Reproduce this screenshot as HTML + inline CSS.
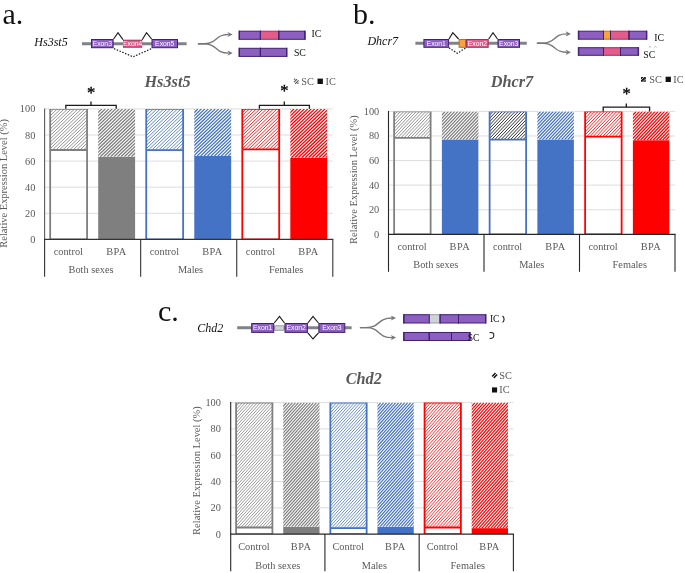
<!DOCTYPE html>
<html><head><meta charset="utf-8"><title>Figure</title>
<style>html,body{margin:0;padding:0;background:#fff;}svg{display:block;}</style></head><body>
<svg width="685" height="573" viewBox="0 0 685 573" font-family='"Liberation Serif", "DejaVu Serif", serif'>
<defs>
<pattern id="hg1" patternUnits="userSpaceOnUse" width="1.65" height="1.65" patternTransform="rotate(-45)"><rect x="0" y="0" width="1.65" height="0.55" fill="#7f7f7f"/></pattern>
<pattern id="hg2" patternUnits="userSpaceOnUse" width="1.65" height="1.65" patternTransform="rotate(-45)"><rect x="0" y="0" width="1.65" height="0.95" fill="#7f7f7f"/></pattern>
<pattern id="hb1" patternUnits="userSpaceOnUse" width="1.65" height="1.65" patternTransform="rotate(-45)"><rect x="0" y="0" width="1.65" height="0.55" fill="#4472c4"/></pattern>
<pattern id="hb2" patternUnits="userSpaceOnUse" width="1.65" height="1.65" patternTransform="rotate(-45)"><rect x="0" y="0" width="1.65" height="0.95" fill="#4472c4"/></pattern>
<pattern id="hr1" patternUnits="userSpaceOnUse" width="1.65" height="1.65" patternTransform="rotate(-45)"><rect x="0" y="0" width="1.65" height="0.55" fill="#ff0000"/></pattern>
<pattern id="hr2" patternUnits="userSpaceOnUse" width="1.65" height="1.65" patternTransform="rotate(-45)"><rect x="0" y="0" width="1.65" height="0.95" fill="#ff0000"/></pattern>
</defs>
<rect width="685" height="573" fill="#fff"/>
<text x="2.5" y="23.5" font-size="30" fill="#111">a.</text>
<text x="34.3" y="46" font-size="12" font-style="italic" fill="#111">Hs3st5</text>
<line x1="82" y1="43.7" x2="186.6" y2="43.7" stroke="#7f8386" stroke-width="3"/>
<rect x="91.50" y="39.50" width="21.60" height="8.20" fill="#8d5fc0" stroke="#3f2170" stroke-width="1.0"/>
<text x="102.30" y="46.00" text-anchor="middle" font-family='"Liberation Sans", "DejaVu Sans", sans-serif' font-size="6.8" fill="#fff">Exon3</text>
<rect x="123.50" y="40.20" width="18.20" height="7.00" fill="#e25c8c" stroke="#a0305c" stroke-width="1.0"/>
<text x="132.60" y="46.10" text-anchor="middle" font-family='"Liberation Sans", "DejaVu Sans", sans-serif' font-size="6.8" fill="#fff">Exon4</text>
<rect x="152.00" y="39.50" width="25.50" height="8.20" fill="#8d5fc0" stroke="#3f2170" stroke-width="1.0"/>
<text x="164.75" y="46.00" text-anchor="middle" font-family='"Liberation Sans", "DejaVu Sans", sans-serif' font-size="6.8" fill="#fff">Exon5</text>
<path d="M113.6 39 L118 32.7 L123 39.7 M142.2 39.7 L146.5 32.7 L151.6 39" fill="none" stroke="#1a1a1a" stroke-width="1.15"/>
<path d="M114 48.6 L133 56.8 L151.6 48.6" fill="none" stroke="#1a1a1a" stroke-width="1.2" stroke-dasharray="1.5 1.5"/>
<path d="M197.9 43.7 H203.9 C218.0 43.7,214.0 34.5,228.6 34.5" fill="none" stroke="#777777" stroke-width="1.4"/>
<path d="M232.7 34.5 L227.5 31.9 L228.79999999999998 34.5 L227.5 37.1 Z" fill="#777777"/>
<path d="M197.9 43.7 H203.9 C218.0 43.7,214.0 53.1,228.6 53.1" fill="none" stroke="#777777" stroke-width="1.4"/>
<path d="M232.7 53.1 L227.5 50.5 L228.79999999999998 53.1 L227.5 55.7 Z" fill="#777777"/>
<rect x="239.00" y="31.20" width="21.40" height="8.10" fill="#8d5fc0" stroke="#3f2170" stroke-width="1.0"/>
<rect x="260.40" y="31.20" width="18.40" height="8.10" fill="#e25c8c" stroke="#a0305c" stroke-width="1.0"/>
<rect x="278.80" y="31.20" width="26.40" height="8.10" fill="#8d5fc0" stroke="#3f2170" stroke-width="1.0"/>
<path d="M239.50 30.70V39.80M304.70 30.70V39.80M260.40 30.70V39.80M278.80 30.70V39.80" fill="none" stroke="#3f2170" stroke-width="1.0"/>
<rect x="239.00" y="48.30" width="21.40" height="8.10" fill="#8d5fc0" stroke="#3f2170" stroke-width="1.0"/>
<rect x="260.40" y="48.30" width="26.60" height="8.10" fill="#8d5fc0" stroke="#3f2170" stroke-width="1.0"/>
<path d="M239.50 47.80V56.90M286.50 47.80V56.90M260.40 47.80V56.90" fill="none" stroke="#3f2170" stroke-width="1.0"/>
<text x="311.4" y="36.8" font-size="9.8" fill="#111">IC</text>
<text x="293.9" y="56.2" font-size="9.8" fill="#111">SC</text>
<line x1="44.6" y1="213.30" x2="332.8" y2="213.30" stroke="#d4d4d4" stroke-width="0.8"/>
<line x1="44.6" y1="187.20" x2="332.8" y2="187.20" stroke="#d4d4d4" stroke-width="0.8"/>
<line x1="44.6" y1="161.10" x2="332.8" y2="161.10" stroke="#d4d4d4" stroke-width="0.8"/>
<line x1="44.6" y1="135.00" x2="332.8" y2="135.00" stroke="#d4d4d4" stroke-width="0.8"/>
<line x1="44.6" y1="108.90" x2="332.8" y2="108.90" stroke="#d4d4d4" stroke-width="0.8"/>
<text transform="translate(35.30 242.90) scale(0.94 1)" text-anchor="end" font-size="11" fill="#595959">0</text>
<text transform="translate(35.30 216.80) scale(0.94 1)" text-anchor="end" font-size="11" fill="#595959">20</text>
<text transform="translate(35.30 190.70) scale(0.94 1)" text-anchor="end" font-size="11" fill="#595959">40</text>
<text transform="translate(35.30 164.60) scale(0.94 1)" text-anchor="end" font-size="11" fill="#595959">60</text>
<text transform="translate(35.30 138.50) scale(0.94 1)" text-anchor="end" font-size="11" fill="#595959">80</text>
<text transform="translate(35.30 112.40) scale(0.94 1)" text-anchor="end" font-size="11" fill="#595959">100</text>
<clipPath id="c1"><rect x="50.17" y="108.90" width="36.90" height="41.11"/></clipPath>
<rect x="50.17" y="108.90" width="36.90" height="41.11" fill="#fff"/>
<path clip-path="url(#c1)" d="M4.04 150.01l42.98 -41.11M7.49 150.01l42.98 -41.11M10.94 150.01l42.98 -41.11M14.39 150.01l42.98 -41.11M17.84 150.01l42.98 -41.11M21.29 150.01l42.98 -41.11M24.74 150.01l42.98 -41.11M28.19 150.01l42.98 -41.11M31.64 150.01l42.98 -41.11M35.09 150.01l42.98 -41.11M38.54 150.01l42.98 -41.11M41.99 150.01l42.98 -41.11M45.44 150.01l42.98 -41.11M48.89 150.01l42.98 -41.11M52.34 150.01l42.98 -41.11M55.79 150.01l42.98 -41.11M59.24 150.01l42.98 -41.11M62.69 150.01l42.98 -41.11M66.14 150.01l42.98 -41.11M69.59 150.01l42.98 -41.11M73.04 150.01l42.98 -41.11M76.49 150.01l42.98 -41.11M79.94 150.01l42.98 -41.11M83.39 150.01l42.98 -41.11M86.84 150.01l42.98 -41.11M90.29 150.01l42.98 -41.11" fill="none" stroke="#7f7f7f" stroke-width="0.85"/>
<path fill="#7f7f7f" d="M49.27 108.90H87.97V239.40H49.27ZM51.07 109.80V149.11H86.17V109.80ZM51.07 150.91V238.50H86.17V150.91Z" fill-rule="evenodd"/>
<clipPath id="c2"><rect x="98.20" y="108.90" width="36.90" height="47.89"/></clipPath>
<rect x="98.20" y="108.90" width="36.90" height="47.89" fill="#fff"/>
<path clip-path="url(#c2)" d="M44.98 156.79l50.07 -47.89M48.43 156.79l50.07 -47.89M51.88 156.79l50.07 -47.89M55.33 156.79l50.07 -47.89M58.78 156.79l50.07 -47.89M62.23 156.79l50.07 -47.89M65.68 156.79l50.07 -47.89M69.13 156.79l50.07 -47.89M72.58 156.79l50.07 -47.89M76.03 156.79l50.07 -47.89M79.48 156.79l50.07 -47.89M82.93 156.79l50.07 -47.89M86.38 156.79l50.07 -47.89M89.83 156.79l50.07 -47.89M93.28 156.79l50.07 -47.89M96.73 156.79l50.07 -47.89M100.18 156.79l50.07 -47.89M103.63 156.79l50.07 -47.89M107.08 156.79l50.07 -47.89M110.53 156.79l50.07 -47.89M113.98 156.79l50.07 -47.89M117.43 156.79l50.07 -47.89M120.88 156.79l50.07 -47.89M124.33 156.79l50.07 -47.89M127.78 156.79l50.07 -47.89M131.23 156.79l50.07 -47.89M134.68 156.79l50.07 -47.89M138.13 156.79l50.07 -47.89" fill="none" stroke="#7f7f7f" stroke-width="1.3"/>
<rect x="98.20" y="156.79" width="36.9" height="82.61" fill="#7f7f7f"/>
<clipPath id="c3"><rect x="146.23" y="108.90" width="36.90" height="41.24"/></clipPath>
<rect x="146.23" y="108.90" width="36.90" height="41.24" fill="#fff"/>
<path clip-path="url(#c3)" d="M99.97 150.14l43.11 -41.24M103.42 150.14l43.11 -41.24M106.87 150.14l43.11 -41.24M110.32 150.14l43.11 -41.24M113.77 150.14l43.11 -41.24M117.22 150.14l43.11 -41.24M120.67 150.14l43.11 -41.24M124.12 150.14l43.11 -41.24M127.57 150.14l43.11 -41.24M131.02 150.14l43.11 -41.24M134.47 150.14l43.11 -41.24M137.92 150.14l43.11 -41.24M141.37 150.14l43.11 -41.24M144.82 150.14l43.11 -41.24M148.27 150.14l43.11 -41.24M151.72 150.14l43.11 -41.24M155.17 150.14l43.11 -41.24M158.62 150.14l43.11 -41.24M162.07 150.14l43.11 -41.24M165.52 150.14l43.11 -41.24M168.97 150.14l43.11 -41.24M172.42 150.14l43.11 -41.24M175.87 150.14l43.11 -41.24M179.32 150.14l43.11 -41.24M182.77 150.14l43.11 -41.24M186.22 150.14l43.11 -41.24" fill="none" stroke="#4472c4" stroke-width="0.85"/>
<path fill="#4472c4" d="M145.33 108.90H184.03V239.40H145.33ZM147.13 109.80V149.24H182.23V109.80ZM147.13 151.04V238.50H182.23V151.04Z" fill-rule="evenodd"/>
<clipPath id="c4"><rect x="194.27" y="108.90" width="36.90" height="46.98"/></clipPath>
<rect x="194.27" y="108.90" width="36.90" height="46.98" fill="#fff"/>
<path clip-path="url(#c4)" d="M142.00 155.88l49.12 -46.98M145.45 155.88l49.12 -46.98M148.90 155.88l49.12 -46.98M152.35 155.88l49.12 -46.98M155.80 155.88l49.12 -46.98M159.25 155.88l49.12 -46.98M162.70 155.88l49.12 -46.98M166.15 155.88l49.12 -46.98M169.60 155.88l49.12 -46.98M173.05 155.88l49.12 -46.98M176.50 155.88l49.12 -46.98M179.95 155.88l49.12 -46.98M183.40 155.88l49.12 -46.98M186.85 155.88l49.12 -46.98M190.30 155.88l49.12 -46.98M193.75 155.88l49.12 -46.98M197.20 155.88l49.12 -46.98M200.65 155.88l49.12 -46.98M204.10 155.88l49.12 -46.98M207.55 155.88l49.12 -46.98M211.00 155.88l49.12 -46.98M214.45 155.88l49.12 -46.98M217.90 155.88l49.12 -46.98M221.35 155.88l49.12 -46.98M224.80 155.88l49.12 -46.98M228.25 155.88l49.12 -46.98M231.70 155.88l49.12 -46.98" fill="none" stroke="#4472c4" stroke-width="1.3"/>
<rect x="194.27" y="155.88" width="36.9" height="83.52" fill="#4472c4"/>
<clipPath id="c5"><rect x="242.30" y="108.90" width="36.90" height="40.46"/></clipPath>
<rect x="242.30" y="108.90" width="36.90" height="40.46" fill="#fff"/>
<path clip-path="url(#c5)" d="M196.86 149.36l42.29 -40.46M200.31 149.36l42.29 -40.46M203.76 149.36l42.29 -40.46M207.21 149.36l42.29 -40.46M210.66 149.36l42.29 -40.46M214.11 149.36l42.29 -40.46M217.56 149.36l42.29 -40.46M221.01 149.36l42.29 -40.46M224.46 149.36l42.29 -40.46M227.91 149.36l42.29 -40.46M231.36 149.36l42.29 -40.46M234.81 149.36l42.29 -40.46M238.26 149.36l42.29 -40.46M241.71 149.36l42.29 -40.46M245.16 149.36l42.29 -40.46M248.61 149.36l42.29 -40.46M252.06 149.36l42.29 -40.46M255.51 149.36l42.29 -40.46M258.96 149.36l42.29 -40.46M262.41 149.36l42.29 -40.46M265.86 149.36l42.29 -40.46M269.31 149.36l42.29 -40.46M272.76 149.36l42.29 -40.46M276.21 149.36l42.29 -40.46M279.66 149.36l42.29 -40.46" fill="none" stroke="#ff0000" stroke-width="0.85"/>
<path fill="#ff0000" d="M241.40 108.90H280.10V239.40H241.40ZM243.20 109.80V148.46H278.30V109.80ZM243.20 150.26V238.50H278.30V150.26Z" fill-rule="evenodd"/>
<clipPath id="c6"><rect x="290.33" y="108.90" width="36.90" height="48.94"/></clipPath>
<rect x="290.33" y="108.90" width="36.90" height="48.94" fill="#fff"/>
<path clip-path="url(#c6)" d="M236.02 157.84l51.16 -48.94M239.47 157.84l51.16 -48.94M242.92 157.84l51.16 -48.94M246.37 157.84l51.16 -48.94M249.82 157.84l51.16 -48.94M253.27 157.84l51.16 -48.94M256.72 157.84l51.16 -48.94M260.17 157.84l51.16 -48.94M263.62 157.84l51.16 -48.94M267.07 157.84l51.16 -48.94M270.52 157.84l51.16 -48.94M273.97 157.84l51.16 -48.94M277.42 157.84l51.16 -48.94M280.87 157.84l51.16 -48.94M284.32 157.84l51.16 -48.94M287.77 157.84l51.16 -48.94M291.22 157.84l51.16 -48.94M294.67 157.84l51.16 -48.94M298.12 157.84l51.16 -48.94M301.57 157.84l51.16 -48.94M305.02 157.84l51.16 -48.94M308.47 157.84l51.16 -48.94M311.92 157.84l51.16 -48.94M315.37 157.84l51.16 -48.94M318.82 157.84l51.16 -48.94M322.27 157.84l51.16 -48.94M325.72 157.84l51.16 -48.94M329.17 157.84l51.16 -48.94" fill="none" stroke="#ff0000" stroke-width="1.3"/>
<rect x="290.33" y="157.84" width="36.9" height="81.56" fill="#ff0000"/>
<line x1="44.6" y1="108.40" x2="44.6" y2="239.4" stroke="#5a5a5a" stroke-width="1.1"/>
<line x1="44.6" y1="239.4" x2="44.6" y2="276.8" stroke="#333" stroke-width="1.1"/>
<line x1="44.050000000000004" y1="239.4" x2="333.35" y2="239.4" stroke="#333" stroke-width="1.2"/>
<line x1="140.67" y1="239.4" x2="140.67" y2="276.8" stroke="#333" stroke-width="1.1"/>
<line x1="236.73" y1="239.4" x2="236.73" y2="276.8" stroke="#333" stroke-width="1.1"/>
<line x1="332.80" y1="239.4" x2="332.80" y2="276.8" stroke="#333" stroke-width="1.1"/>
<text transform="translate(68.32 254.7) scale(0.94 1)" text-anchor="middle" font-size="11" fill="#595959">control</text>
<text transform="translate(116.35 254.7) scale(0.94 1)" text-anchor="middle" font-size="11" letter-spacing="0.45" fill="#595959">BPA</text>
<text transform="translate(164.38 254.7) scale(0.94 1)" text-anchor="middle" font-size="11" fill="#595959">control</text>
<text transform="translate(212.42 254.7) scale(0.94 1)" text-anchor="middle" font-size="11" letter-spacing="0.45" fill="#595959">BPA</text>
<text transform="translate(260.45 254.7) scale(0.94 1)" text-anchor="middle" font-size="11" fill="#595959">control</text>
<text transform="translate(308.48 254.7) scale(0.94 1)" text-anchor="middle" font-size="11" letter-spacing="0.45" fill="#595959">BPA</text>
<text transform="translate(91.03 272.5) scale(0.94 1)" text-anchor="middle" font-size="11" fill="#595959">Both sexes</text>
<text transform="translate(190.50 272.5) scale(0.94 1)" text-anchor="middle" font-size="11" fill="#595959">Males</text>
<text transform="translate(286.17 272.5) scale(0.94 1)" text-anchor="middle" font-size="11" fill="#595959">Females</text>
<text transform="translate(7.0,183.40) rotate(-90) scale(0.952 1)" text-anchor="middle" font-size="11" fill="#595959">Relative Expression Level (%)</text>
<text x="167.5" y="87.3" text-anchor="middle" font-size="16.3" font-weight="bold" font-style="italic" fill="#595959">Hs3st5</text>
<path d="M65.8 108.8 V105.3 H116.2 V108.8 M91 105.3 V101.5" fill="none" stroke="#1a1a1a" stroke-width="1.3"/>
<text x="91" y="98.4" text-anchor="middle" font-size="16.5" fill="#000" stroke="#000" stroke-width="0.35">*</text>
<path d="M259.4 108.8 V105.3 H309.4 V108.8 M284.3 105.3 V101.5" fill="none" stroke="#1a1a1a" stroke-width="1.3"/>
<text x="284.3" y="95.9" text-anchor="middle" font-size="16.5" fill="#000" stroke="#000" stroke-width="0.35">*</text>
<path d="M294 82.2 l3 -3 M295.2 83.8 l3.4 -3.4 M294 79.6 l1.2 -0.8 M297.4 83.6 l1.2 -0.8" fill="none" stroke="#555" stroke-width="1.1"/>
<text transform="translate(301.2 84.9) scale(0.93 1)" font-size="11.1" fill="#595959">SC</text>
<rect x="317.5" y="78.6" width="5.4" height="5.4" fill="#111"/>
<text transform="translate(325.6 84.9) scale(0.93 1)" font-size="11.1" fill="#595959">IC</text>
<text x="353" y="23.5" font-size="30" fill="#111">b.</text>
<text x="367.4" y="44.6" font-size="12" font-style="italic" fill="#111">Dhcr7</text>
<line x1="415.4" y1="43.2" x2="526.8" y2="43.2" stroke="#7f8386" stroke-width="3"/>
<rect x="423.90" y="39.50" width="24.70" height="7.80" fill="#8d5fc0" stroke="#3f2170" stroke-width="1.0"/>
<text x="436.25" y="45.80" text-anchor="middle" font-family='"Liberation Sans", "DejaVu Sans", sans-serif' font-size="6.8" fill="#fff">Exon1</text>
<rect x="459.10" y="39.50" width="6.40" height="7.80" fill="#f9a23f" stroke="#b5702a" stroke-width="1.0"/>
<rect x="466.50" y="39.50" width="21.70" height="7.80" fill="#e25c8c" stroke="#a0305c" stroke-width="1.0"/>
<text x="477.35" y="45.80" text-anchor="middle" font-family='"Liberation Sans", "DejaVu Sans", sans-serif' font-size="6.8" fill="#fff">Exon2</text>
<rect x="498.00" y="39.50" width="21.50" height="7.80" fill="#8d5fc0" stroke="#3f2170" stroke-width="1.0"/>
<text x="508.75" y="45.80" text-anchor="middle" font-family='"Liberation Sans", "DejaVu Sans", sans-serif' font-size="6.8" fill="#fff">Exon3</text>
<path d="M449 39 L452.8 32.7 L458.6 39 M488.7 39 L493 32.7 L497.5 39" fill="none" stroke="#1a1a1a" stroke-width="1.15"/>
<path d="M449 47.8 L457.3 53.3 L466 47.8" fill="none" stroke="#1a1a1a" stroke-width="1.2" stroke-dasharray="1.5 1.5"/>
<path d="M536.9 43.2 H542.9 C556.5999999999999 43.2,552.5999999999999 33.9,566.8 33.9" fill="none" stroke="#777777" stroke-width="1.4"/>
<path d="M570.9 33.9 L565.6999999999999 31.299999999999997 L567.0 33.9 L565.6999999999999 36.5 Z" fill="#777777"/>
<path d="M536.9 43.2 H542.9 C556.5999999999999 43.2,552.5999999999999 52.3,566.8 52.3" fill="none" stroke="#777777" stroke-width="1.4"/>
<path d="M570.9 52.3 L565.6999999999999 49.699999999999996 L567.0 52.3 L565.6999999999999 54.9 Z" fill="#777777"/>
<rect x="578.30" y="31.20" width="25.20" height="8.00" fill="#8d5fc0" stroke="#3f2170" stroke-width="1.0"/>
<rect x="603.50" y="31.20" width="7.00" height="8.00" fill="#f9a23f" stroke="#b5702a" stroke-width="1.0"/>
<rect x="610.50" y="31.20" width="18.50" height="8.00" fill="#e25c8c" stroke="#a0305c" stroke-width="1.0"/>
<rect x="629.00" y="31.20" width="17.90" height="8.00" fill="#8d5fc0" stroke="#3f2170" stroke-width="1.0"/>
<path d="M578.80 30.70V39.70M646.40 30.70V39.70M603.50 30.70V39.70M610.50 30.70V39.70M629.00 30.70V39.70" fill="none" stroke="#3f2170" stroke-width="1.0"/>
<rect x="578.30" y="47.70" width="25.20" height="7.60" fill="#8d5fc0" stroke="#3f2170" stroke-width="1.0"/>
<rect x="603.50" y="47.70" width="17.00" height="7.60" fill="#e25c8c" stroke="#a0305c" stroke-width="1.0"/>
<rect x="620.50" y="47.70" width="18.10" height="7.60" fill="#8d5fc0" stroke="#3f2170" stroke-width="1.0"/>
<path d="M578.80 47.20V55.80M638.10 47.20V55.80M603.50 47.20V55.80M620.50 47.20V55.80" fill="none" stroke="#3f2170" stroke-width="1.0"/>
<text x="654.2" y="40.8" font-size="9.8" fill="#111">IC</text>
<text x="643.2" y="58" font-size="9.8" fill="#111">SC</text>
<path d="M648.8 47.3 l1.2 -0.8 l1.2 0.8 M654.2 47.3 l1.2 -0.8 l1.2 0.8" fill="none" stroke="#888" stroke-width="0.6"/>
<line x1="388.5" y1="209.72" x2="675" y2="209.72" stroke="#d4d4d4" stroke-width="0.8"/>
<line x1="388.5" y1="185.14" x2="675" y2="185.14" stroke="#d4d4d4" stroke-width="0.8"/>
<line x1="388.5" y1="160.56" x2="675" y2="160.56" stroke="#d4d4d4" stroke-width="0.8"/>
<line x1="388.5" y1="135.98" x2="675" y2="135.98" stroke="#d4d4d4" stroke-width="0.8"/>
<line x1="388.5" y1="111.40" x2="675" y2="111.40" stroke="#d4d4d4" stroke-width="0.8"/>
<text transform="translate(379.20 237.80) scale(0.94 1)" text-anchor="end" font-size="11" fill="#595959">0</text>
<text transform="translate(379.20 213.22) scale(0.94 1)" text-anchor="end" font-size="11" fill="#595959">20</text>
<text transform="translate(379.20 188.64) scale(0.94 1)" text-anchor="end" font-size="11" fill="#595959">40</text>
<text transform="translate(379.20 164.06) scale(0.94 1)" text-anchor="end" font-size="11" fill="#595959">60</text>
<text transform="translate(379.20 139.48) scale(0.94 1)" text-anchor="end" font-size="11" fill="#595959">80</text>
<text transform="translate(379.20 114.90) scale(0.94 1)" text-anchor="end" font-size="11" fill="#595959">100</text>
<clipPath id="c7"><rect x="394.12" y="111.40" width="36.50" height="26.42"/></clipPath>
<rect x="394.12" y="111.40" width="36.50" height="26.42" fill="#fff"/>
<path clip-path="url(#c7)" d="M366.28 137.82l25.00 -26.42M369.43 137.82l25.00 -26.42M372.58 137.82l25.00 -26.42M375.73 137.82l25.00 -26.42M378.88 137.82l25.00 -26.42M382.03 137.82l25.00 -26.42M385.18 137.82l25.00 -26.42M388.33 137.82l25.00 -26.42M391.48 137.82l25.00 -26.42M394.63 137.82l25.00 -26.42M397.78 137.82l25.00 -26.42M400.93 137.82l25.00 -26.42M404.08 137.82l25.00 -26.42M407.23 137.82l25.00 -26.42M410.38 137.82l25.00 -26.42M413.53 137.82l25.00 -26.42M416.68 137.82l25.00 -26.42M419.83 137.82l25.00 -26.42M422.98 137.82l25.00 -26.42M426.13 137.82l25.00 -26.42M429.28 137.82l25.00 -26.42M432.43 137.82l25.00 -26.42" fill="none" stroke="#7f7f7f" stroke-width="0.85"/>
<path fill="#7f7f7f" d="M393.23 111.40H431.52V234.30H393.23ZM395.02 112.30V136.92H429.73V112.30ZM395.02 138.72V233.40H429.73V138.72Z" fill-rule="evenodd"/>
<clipPath id="c8"><rect x="441.88" y="111.40" width="36.50" height="28.27"/></clipPath>
<rect x="441.88" y="111.40" width="36.50" height="28.27" fill="#fff"/>
<path clip-path="url(#c8)" d="M412.29 139.67l26.74 -28.27M415.44 139.67l26.74 -28.27M418.59 139.67l26.74 -28.27M421.74 139.67l26.74 -28.27M424.89 139.67l26.74 -28.27M428.04 139.67l26.74 -28.27M431.19 139.67l26.74 -28.27M434.34 139.67l26.74 -28.27M437.49 139.67l26.74 -28.27M440.64 139.67l26.74 -28.27M443.79 139.67l26.74 -28.27M446.94 139.67l26.74 -28.27M450.09 139.67l26.74 -28.27M453.24 139.67l26.74 -28.27M456.39 139.67l26.74 -28.27M459.54 139.67l26.74 -28.27M462.69 139.67l26.74 -28.27M465.84 139.67l26.74 -28.27M468.99 139.67l26.74 -28.27M472.14 139.67l26.74 -28.27M475.29 139.67l26.74 -28.27M478.44 139.67l26.74 -28.27" fill="none" stroke="#7f7f7f" stroke-width="1.25"/>
<rect x="441.88" y="139.67" width="36.5" height="94.63" fill="#4472c4"/>
<clipPath id="c9"><rect x="489.62" y="111.40" width="36.50" height="28.27"/></clipPath>
<rect x="489.62" y="111.40" width="36.50" height="28.27" fill="#fff"/>
<path clip-path="url(#c9)" d="M460.04 139.67l26.74 -28.27M463.19 139.67l26.74 -28.27M466.34 139.67l26.74 -28.27M469.49 139.67l26.74 -28.27M472.64 139.67l26.74 -28.27M475.79 139.67l26.74 -28.27M478.94 139.67l26.74 -28.27M482.09 139.67l26.74 -28.27M485.24 139.67l26.74 -28.27M488.39 139.67l26.74 -28.27M491.54 139.67l26.74 -28.27M494.69 139.67l26.74 -28.27M497.84 139.67l26.74 -28.27M500.99 139.67l26.74 -28.27M504.14 139.67l26.74 -28.27M507.29 139.67l26.74 -28.27M510.44 139.67l26.74 -28.27M513.59 139.67l26.74 -28.27M516.74 139.67l26.74 -28.27M519.89 139.67l26.74 -28.27M523.04 139.67l26.74 -28.27M526.19 139.67l26.74 -28.27" fill="none" stroke="#333" stroke-width="1.0"/>
<path fill="#4472c4" d="M488.73 111.40H527.02V234.30H488.73ZM490.52 112.30V138.77H525.23V112.30ZM490.52 140.57V233.40H525.23V140.57Z" fill-rule="evenodd"/>
<clipPath id="c10"><rect x="537.38" y="111.40" width="36.50" height="28.27"/></clipPath>
<rect x="537.38" y="111.40" width="36.50" height="28.27" fill="#fff"/>
<path clip-path="url(#c10)" d="M507.79 139.67l26.74 -28.27M510.94 139.67l26.74 -28.27M514.09 139.67l26.74 -28.27M517.24 139.67l26.74 -28.27M520.39 139.67l26.74 -28.27M523.54 139.67l26.74 -28.27M526.69 139.67l26.74 -28.27M529.84 139.67l26.74 -28.27M532.99 139.67l26.74 -28.27M536.14 139.67l26.74 -28.27M539.29 139.67l26.74 -28.27M542.44 139.67l26.74 -28.27M545.59 139.67l26.74 -28.27M548.74 139.67l26.74 -28.27M551.89 139.67l26.74 -28.27M555.04 139.67l26.74 -28.27M558.19 139.67l26.74 -28.27M561.34 139.67l26.74 -28.27M564.49 139.67l26.74 -28.27M567.64 139.67l26.74 -28.27M570.79 139.67l26.74 -28.27M573.94 139.67l26.74 -28.27" fill="none" stroke="#4472c4" stroke-width="1.25"/>
<rect x="537.38" y="139.67" width="36.5" height="94.63" fill="#4472c4"/>
<clipPath id="c11"><rect x="585.12" y="111.40" width="36.50" height="25.19"/></clipPath>
<rect x="585.12" y="111.40" width="36.50" height="25.19" fill="#fff"/>
<path clip-path="url(#c11)" d="M558.44 136.59l23.83 -25.19M561.59 136.59l23.83 -25.19M564.74 136.59l23.83 -25.19M567.89 136.59l23.83 -25.19M571.04 136.59l23.83 -25.19M574.19 136.59l23.83 -25.19M577.34 136.59l23.83 -25.19M580.49 136.59l23.83 -25.19M583.64 136.59l23.83 -25.19M586.79 136.59l23.83 -25.19M589.94 136.59l23.83 -25.19M593.09 136.59l23.83 -25.19M596.24 136.59l23.83 -25.19M599.39 136.59l23.83 -25.19M602.54 136.59l23.83 -25.19M605.69 136.59l23.83 -25.19M608.84 136.59l23.83 -25.19M611.99 136.59l23.83 -25.19M615.14 136.59l23.83 -25.19M618.29 136.59l23.83 -25.19M621.44 136.59l23.83 -25.19M624.59 136.59l23.83 -25.19" fill="none" stroke="#ff0000" stroke-width="0.85"/>
<path fill="#ff0000" d="M584.23 111.40H622.52V234.30H584.23ZM586.02 112.30V135.69H620.73V112.30ZM586.02 137.49V233.40H620.73V137.49Z" fill-rule="evenodd"/>
<clipPath id="c12"><rect x="632.88" y="111.40" width="36.50" height="28.88"/></clipPath>
<rect x="632.88" y="111.40" width="36.50" height="28.88" fill="#fff"/>
<path clip-path="url(#c12)" d="M602.70 140.28l27.32 -28.88M605.85 140.28l27.32 -28.88M609.00 140.28l27.32 -28.88M612.15 140.28l27.32 -28.88M615.30 140.28l27.32 -28.88M618.45 140.28l27.32 -28.88M621.60 140.28l27.32 -28.88M624.75 140.28l27.32 -28.88M627.90 140.28l27.32 -28.88M631.05 140.28l27.32 -28.88M634.20 140.28l27.32 -28.88M637.35 140.28l27.32 -28.88M640.50 140.28l27.32 -28.88M643.65 140.28l27.32 -28.88M646.80 140.28l27.32 -28.88M649.95 140.28l27.32 -28.88M653.10 140.28l27.32 -28.88M656.25 140.28l27.32 -28.88M659.40 140.28l27.32 -28.88M662.55 140.28l27.32 -28.88M665.70 140.28l27.32 -28.88M668.85 140.28l27.32 -28.88M672.00 140.28l27.32 -28.88" fill="none" stroke="#ff0000" stroke-width="1.25"/>
<rect x="632.88" y="140.28" width="36.5" height="94.02" fill="#ff0000"/>
<line x1="388.5" y1="110.90" x2="388.5" y2="234.3" stroke="#262626" stroke-width="1.1"/>
<line x1="388.5" y1="234.3" x2="388.5" y2="271.8" stroke="#262626" stroke-width="1.1"/>
<line x1="387.95" y1="234.3" x2="675.55" y2="234.3" stroke="#262626" stroke-width="1.2"/>
<line x1="484.00" y1="234.3" x2="484.00" y2="271.8" stroke="#262626" stroke-width="1.1"/>
<line x1="579.50" y1="234.3" x2="579.50" y2="271.8" stroke="#262626" stroke-width="1.1"/>
<line x1="675.00" y1="234.3" x2="675.00" y2="271.8" stroke="#262626" stroke-width="1.1"/>
<text transform="translate(412.07 250) scale(0.94 1)" text-anchor="middle" font-size="11" fill="#595959">control</text>
<text transform="translate(459.82 250) scale(0.94 1)" text-anchor="middle" font-size="11" letter-spacing="0.45" fill="#595959">BPA</text>
<text transform="translate(507.57 250) scale(0.94 1)" text-anchor="middle" font-size="11" fill="#595959">control</text>
<text transform="translate(555.33 250) scale(0.94 1)" text-anchor="middle" font-size="11" letter-spacing="0.45" fill="#595959">BPA</text>
<text transform="translate(603.08 250) scale(0.94 1)" text-anchor="middle" font-size="11" fill="#595959">control</text>
<text transform="translate(650.83 250) scale(0.94 1)" text-anchor="middle" font-size="11" letter-spacing="0.45" fill="#595959">BPA</text>
<text transform="translate(435.75 268) scale(0.94 1)" text-anchor="middle" font-size="11" fill="#595959">Both sexes</text>
<text transform="translate(531.75 268) scale(0.94 1)" text-anchor="middle" font-size="11" fill="#595959">Males</text>
<text transform="translate(629.75 268) scale(0.94 1)" text-anchor="middle" font-size="11" fill="#595959">Females</text>
<text transform="translate(357.2,179.60) rotate(-90) scale(0.952 1)" text-anchor="middle" font-size="11" fill="#595959">Relative Expression Level (%)</text>
<text x="511.9" y="87.3" text-anchor="middle" font-size="16.3" font-weight="bold" font-style="italic" fill="#595959">Dhcr7</text>
<path d="M603.2 111.4 V107.1 H649.6 V111.4 M626.3 107.1 V103.4" fill="none" stroke="#1a1a1a" stroke-width="1.3"/>
<text x="626.5" y="98.5" text-anchor="middle" font-size="16.5" fill="#000" stroke="#000" stroke-width="0.35">*</text>
<rect x="641" y="77" width="4.8" height="4.8" fill="#222"/>
<path d="M641 80 l3 -3 M642.8 81.8 l3 -3" stroke="#fff" stroke-width="0.7"/>
<text transform="translate(649.2 82.8) scale(0.93 1)" font-size="11.1" fill="#595959">SC</text>
<rect x="665.6" y="76.7" width="5.3" height="5.3" fill="#111"/>
<text transform="translate(673.2 82.8) scale(0.93 1)" font-size="11.1" fill="#595959">IC</text>
<text x="158" y="321" font-size="30" fill="#111">c.</text>
<text x="197.2" y="331.6" font-size="12" font-style="italic" fill="#111">Chd2</text>
<line x1="237.2" y1="327.8" x2="351.6" y2="327.8" stroke="#7f8386" stroke-width="3"/>
<rect x="274.70" y="325.80" width="9.30" height="4.50" fill="#cfd2d6" stroke="#9a9da2" stroke-width="1.0"/>
<rect x="251.70" y="323.50" width="22.00" height="8.90" fill="#8d5fc0" stroke="#3f2170" stroke-width="1.0"/>
<text x="262.70" y="330.35" text-anchor="middle" font-family='"Liberation Sans", "DejaVu Sans", sans-serif' font-size="6.8" fill="#fff">Exon1</text>
<rect x="285.00" y="323.50" width="22.40" height="8.90" fill="#8d5fc0" stroke="#3f2170" stroke-width="1.0"/>
<text x="296.20" y="330.35" text-anchor="middle" font-family='"Liberation Sans", "DejaVu Sans", sans-serif' font-size="6.8" fill="#fff">Exon2</text>
<rect x="318.90" y="323.50" width="25.90" height="8.90" fill="#8d5fc0" stroke="#3f2170" stroke-width="1.0"/>
<text x="331.85" y="330.35" text-anchor="middle" font-family='"Liberation Sans", "DejaVu Sans", sans-serif' font-size="6.8" fill="#fff">Exon3</text>
<path d="M274.2 323 L279.5 316.5 L284.5 323 M307.8 323 L313 316.5 L318.5 323 M307.8 332.9 L313 339 L318.5 332.9" fill="none" stroke="#1a1a1a" stroke-width="1.15"/>
<path d="M359.9 327.6 H365.9 C380.7 327.6,376.7 318,392.0 318" fill="none" stroke="#777777" stroke-width="1.4"/>
<path d="M396.1 318 L390.9 315.4 L392.2 318 L390.9 320.6 Z" fill="#777777"/>
<path d="M359.9 327.6 H365.9 C380.7 327.6,376.7 337.6,392.0 337.6" fill="none" stroke="#777777" stroke-width="1.4"/>
<path d="M396.1 337.6 L390.9 335.0 L392.2 337.6 L390.9 340.20000000000005 Z" fill="#777777"/>
<rect x="403.60" y="314.70" width="25.70" height="8.30" fill="#8d5fc0" stroke="#3f2170" stroke-width="1.0"/>
<rect x="429.30" y="314.70" width="10.80" height="8.30" fill="#cfd2d6" stroke="#9a9da2" stroke-width="1.0"/>
<rect x="440.10" y="314.70" width="18.40" height="8.30" fill="#8d5fc0" stroke="#3f2170" stroke-width="1.0"/>
<rect x="458.50" y="314.70" width="27.50" height="8.30" fill="#8d5fc0" stroke="#3f2170" stroke-width="1.0"/>
<path d="M404.10 314.20V323.50M485.50 314.20V323.50M429.30 314.20V323.50M440.10 314.20V323.50M458.50 314.20V323.50" fill="none" stroke="#3f2170" stroke-width="1.0"/>
<rect x="403.60" y="332.50" width="25.70" height="8.00" fill="#8d5fc0" stroke="#3f2170" stroke-width="1.0"/>
<rect x="429.30" y="332.50" width="22.20" height="8.00" fill="#8d5fc0" stroke="#3f2170" stroke-width="1.0"/>
<rect x="451.50" y="332.50" width="18.70" height="8.00" fill="#8d5fc0" stroke="#3f2170" stroke-width="1.0"/>
<path d="M404.10 332.00V341.00M469.70 332.00V341.00M429.30 332.00V341.00M451.50 332.00V341.00" fill="none" stroke="#3f2170" stroke-width="1.0"/>
<text x="489.9" y="322.1" font-size="9.6" fill="#111">IC</text>
<text x="467.8" y="341.2" font-size="9.5" fill="#111">SC</text>
<path d="M502.6 315.8 q3 3.3 0 6.6 M489.6 332.6 q4.6 -0.6 4.2 3 q-0.2 3.2 -4.2 2.8" fill="none" stroke="#222" stroke-width="1.1"/>
<line x1="230.7" y1="507.80" x2="513.4" y2="507.80" stroke="#d4d4d4" stroke-width="0.8"/>
<line x1="230.7" y1="481.50" x2="513.4" y2="481.50" stroke="#d4d4d4" stroke-width="0.8"/>
<line x1="230.7" y1="455.20" x2="513.4" y2="455.20" stroke="#d4d4d4" stroke-width="0.8"/>
<line x1="230.7" y1="428.90" x2="513.4" y2="428.90" stroke="#d4d4d4" stroke-width="0.8"/>
<line x1="230.7" y1="402.60" x2="513.4" y2="402.60" stroke="#d4d4d4" stroke-width="0.8"/>
<text transform="translate(220.90 537.60) scale(0.94 1)" text-anchor="end" font-size="11" fill="#595959">0</text>
<text transform="translate(220.90 511.30) scale(0.94 1)" text-anchor="end" font-size="11" fill="#595959">20</text>
<text transform="translate(220.90 485.00) scale(0.94 1)" text-anchor="end" font-size="11" fill="#595959">40</text>
<text transform="translate(220.90 458.70) scale(0.94 1)" text-anchor="end" font-size="11" fill="#595959">60</text>
<text transform="translate(220.90 432.40) scale(0.94 1)" text-anchor="end" font-size="11" fill="#595959">80</text>
<text transform="translate(220.90 406.10) scale(0.94 1)" text-anchor="end" font-size="11" fill="#595959">100</text>
<clipPath id="c13"><rect x="236.11" y="402.60" width="36.30" height="124.92"/></clipPath>
<rect x="236.11" y="402.60" width="36.30" height="124.92" fill="#fff"/>
<path clip-path="url(#c13)" d="M120.86 527.52l112.55 -124.92M123.86 527.52l112.55 -124.92M126.86 527.52l112.55 -124.92M129.86 527.52l112.55 -124.92M132.86 527.52l112.55 -124.92M135.86 527.52l112.55 -124.92M138.86 527.52l112.55 -124.92M141.86 527.52l112.55 -124.92M144.86 527.52l112.55 -124.92M147.86 527.52l112.55 -124.92M150.86 527.52l112.55 -124.92M153.86 527.52l112.55 -124.92M156.86 527.52l112.55 -124.92M159.86 527.52l112.55 -124.92M162.86 527.52l112.55 -124.92M165.86 527.52l112.55 -124.92M168.86 527.52l112.55 -124.92M171.86 527.52l112.55 -124.92M174.86 527.52l112.55 -124.92M177.86 527.52l112.55 -124.92M180.86 527.52l112.55 -124.92M183.86 527.52l112.55 -124.92M186.86 527.52l112.55 -124.92M189.86 527.52l112.55 -124.92M192.86 527.52l112.55 -124.92M195.86 527.52l112.55 -124.92M198.86 527.52l112.55 -124.92M201.86 527.52l112.55 -124.92M204.86 527.52l112.55 -124.92M207.86 527.52l112.55 -124.92M210.86 527.52l112.55 -124.92M213.86 527.52l112.55 -124.92M216.86 527.52l112.55 -124.92M219.86 527.52l112.55 -124.92M222.86 527.52l112.55 -124.92M225.86 527.52l112.55 -124.92M228.86 527.52l112.55 -124.92M231.86 527.52l112.55 -124.92M234.86 527.52l112.55 -124.92M237.86 527.52l112.55 -124.92M240.86 527.52l112.55 -124.92M243.86 527.52l112.55 -124.92M246.86 527.52l112.55 -124.92M249.86 527.52l112.55 -124.92M252.86 527.52l112.55 -124.92M255.86 527.52l112.55 -124.92M258.86 527.52l112.55 -124.92M261.86 527.52l112.55 -124.92M264.86 527.52l112.55 -124.92M267.86 527.52l112.55 -124.92M270.86 527.52l112.55 -124.92M273.86 527.52l112.55 -124.92" fill="none" stroke="#7f7f7f" stroke-width="0.8"/>
<path fill="#7f7f7f" d="M235.21 402.60H273.31V534.10H235.21ZM237.01 403.50V526.62H271.51V403.50ZM237.01 528.42V533.20H271.51V528.42Z" fill-rule="evenodd"/>
<clipPath id="c14"><rect x="283.23" y="402.60" width="36.30" height="124.27"/></clipPath>
<rect x="283.23" y="402.60" width="36.30" height="124.27" fill="#fff"/>
<path clip-path="url(#c14)" d="M168.57 526.87l111.95 -124.27M171.57 526.87l111.95 -124.27M174.57 526.87l111.95 -124.27M177.57 526.87l111.95 -124.27M180.57 526.87l111.95 -124.27M183.57 526.87l111.95 -124.27M186.57 526.87l111.95 -124.27M189.57 526.87l111.95 -124.27M192.57 526.87l111.95 -124.27M195.57 526.87l111.95 -124.27M198.57 526.87l111.95 -124.27M201.57 526.87l111.95 -124.27M204.57 526.87l111.95 -124.27M207.57 526.87l111.95 -124.27M210.57 526.87l111.95 -124.27M213.57 526.87l111.95 -124.27M216.57 526.87l111.95 -124.27M219.57 526.87l111.95 -124.27M222.57 526.87l111.95 -124.27M225.57 526.87l111.95 -124.27M228.57 526.87l111.95 -124.27M231.57 526.87l111.95 -124.27M234.57 526.87l111.95 -124.27M237.57 526.87l111.95 -124.27M240.57 526.87l111.95 -124.27M243.57 526.87l111.95 -124.27M246.57 526.87l111.95 -124.27M249.57 526.87l111.95 -124.27M252.57 526.87l111.95 -124.27M255.57 526.87l111.95 -124.27M258.57 526.87l111.95 -124.27M261.57 526.87l111.95 -124.27M264.57 526.87l111.95 -124.27M267.57 526.87l111.95 -124.27M270.57 526.87l111.95 -124.27M273.57 526.87l111.95 -124.27M276.57 526.87l111.95 -124.27M279.57 526.87l111.95 -124.27M282.57 526.87l111.95 -124.27M285.57 526.87l111.95 -124.27M288.57 526.87l111.95 -124.27M291.57 526.87l111.95 -124.27M294.57 526.87l111.95 -124.27M297.57 526.87l111.95 -124.27M300.57 526.87l111.95 -124.27M303.57 526.87l111.95 -124.27M306.57 526.87l111.95 -124.27M309.57 526.87l111.95 -124.27M312.57 526.87l111.95 -124.27M315.57 526.87l111.95 -124.27M318.57 526.87l111.95 -124.27M321.57 526.87l111.95 -124.27" fill="none" stroke="#7f7f7f" stroke-width="1.2"/>
<rect x="283.23" y="526.87" width="36.3" height="7.23" fill="#7f7f7f"/>
<clipPath id="c15"><rect x="330.34" y="402.60" width="36.30" height="125.58"/></clipPath>
<rect x="330.34" y="402.60" width="36.30" height="125.58" fill="#fff"/>
<path clip-path="url(#c15)" d="M214.50 528.18l113.14 -125.58M217.50 528.18l113.14 -125.58M220.50 528.18l113.14 -125.58M223.50 528.18l113.14 -125.58M226.50 528.18l113.14 -125.58M229.50 528.18l113.14 -125.58M232.50 528.18l113.14 -125.58M235.50 528.18l113.14 -125.58M238.50 528.18l113.14 -125.58M241.50 528.18l113.14 -125.58M244.50 528.18l113.14 -125.58M247.50 528.18l113.14 -125.58M250.50 528.18l113.14 -125.58M253.50 528.18l113.14 -125.58M256.50 528.18l113.14 -125.58M259.50 528.18l113.14 -125.58M262.50 528.18l113.14 -125.58M265.50 528.18l113.14 -125.58M268.50 528.18l113.14 -125.58M271.50 528.18l113.14 -125.58M274.50 528.18l113.14 -125.58M277.50 528.18l113.14 -125.58M280.50 528.18l113.14 -125.58M283.50 528.18l113.14 -125.58M286.50 528.18l113.14 -125.58M289.50 528.18l113.14 -125.58M292.50 528.18l113.14 -125.58M295.50 528.18l113.14 -125.58M298.50 528.18l113.14 -125.58M301.50 528.18l113.14 -125.58M304.50 528.18l113.14 -125.58M307.50 528.18l113.14 -125.58M310.50 528.18l113.14 -125.58M313.50 528.18l113.14 -125.58M316.50 528.18l113.14 -125.58M319.50 528.18l113.14 -125.58M322.50 528.18l113.14 -125.58M325.50 528.18l113.14 -125.58M328.50 528.18l113.14 -125.58M331.50 528.18l113.14 -125.58M334.50 528.18l113.14 -125.58M337.50 528.18l113.14 -125.58M340.50 528.18l113.14 -125.58M343.50 528.18l113.14 -125.58M346.50 528.18l113.14 -125.58M349.50 528.18l113.14 -125.58M352.50 528.18l113.14 -125.58M355.50 528.18l113.14 -125.58M358.50 528.18l113.14 -125.58M361.50 528.18l113.14 -125.58M364.50 528.18l113.14 -125.58M367.50 528.18l113.14 -125.58" fill="none" stroke="#4472c4" stroke-width="0.8"/>
<path fill="#4472c4" d="M329.44 402.60H367.54V534.10H329.44ZM331.24 403.50V527.28H365.74V403.50ZM331.24 529.08V533.20H365.74V529.08Z" fill-rule="evenodd"/>
<clipPath id="c16"><rect x="377.46" y="402.60" width="36.30" height="124.27"/></clipPath>
<rect x="377.46" y="402.60" width="36.30" height="124.27" fill="#fff"/>
<path clip-path="url(#c16)" d="M262.81 526.87l111.95 -124.27M265.81 526.87l111.95 -124.27M268.81 526.87l111.95 -124.27M271.81 526.87l111.95 -124.27M274.81 526.87l111.95 -124.27M277.81 526.87l111.95 -124.27M280.81 526.87l111.95 -124.27M283.81 526.87l111.95 -124.27M286.81 526.87l111.95 -124.27M289.81 526.87l111.95 -124.27M292.81 526.87l111.95 -124.27M295.81 526.87l111.95 -124.27M298.81 526.87l111.95 -124.27M301.81 526.87l111.95 -124.27M304.81 526.87l111.95 -124.27M307.81 526.87l111.95 -124.27M310.81 526.87l111.95 -124.27M313.81 526.87l111.95 -124.27M316.81 526.87l111.95 -124.27M319.81 526.87l111.95 -124.27M322.81 526.87l111.95 -124.27M325.81 526.87l111.95 -124.27M328.81 526.87l111.95 -124.27M331.81 526.87l111.95 -124.27M334.81 526.87l111.95 -124.27M337.81 526.87l111.95 -124.27M340.81 526.87l111.95 -124.27M343.81 526.87l111.95 -124.27M346.81 526.87l111.95 -124.27M349.81 526.87l111.95 -124.27M352.81 526.87l111.95 -124.27M355.81 526.87l111.95 -124.27M358.81 526.87l111.95 -124.27M361.81 526.87l111.95 -124.27M364.81 526.87l111.95 -124.27M367.81 526.87l111.95 -124.27M370.81 526.87l111.95 -124.27M373.81 526.87l111.95 -124.27M376.81 526.87l111.95 -124.27M379.81 526.87l111.95 -124.27M382.81 526.87l111.95 -124.27M385.81 526.87l111.95 -124.27M388.81 526.87l111.95 -124.27M391.81 526.87l111.95 -124.27M394.81 526.87l111.95 -124.27M397.81 526.87l111.95 -124.27M400.81 526.87l111.95 -124.27M403.81 526.87l111.95 -124.27M406.81 526.87l111.95 -124.27M409.81 526.87l111.95 -124.27M412.81 526.87l111.95 -124.27M415.81 526.87l111.95 -124.27" fill="none" stroke="#4472c4" stroke-width="1.2"/>
<rect x="377.46" y="526.87" width="36.3" height="7.23" fill="#4472c4"/>
<clipPath id="c17"><rect x="424.58" y="402.60" width="36.30" height="124.92"/></clipPath>
<rect x="424.58" y="402.60" width="36.30" height="124.92" fill="#fff"/>
<path clip-path="url(#c17)" d="M309.33 527.52l112.55 -124.92M312.33 527.52l112.55 -124.92M315.33 527.52l112.55 -124.92M318.33 527.52l112.55 -124.92M321.33 527.52l112.55 -124.92M324.33 527.52l112.55 -124.92M327.33 527.52l112.55 -124.92M330.33 527.52l112.55 -124.92M333.33 527.52l112.55 -124.92M336.33 527.52l112.55 -124.92M339.33 527.52l112.55 -124.92M342.33 527.52l112.55 -124.92M345.33 527.52l112.55 -124.92M348.33 527.52l112.55 -124.92M351.33 527.52l112.55 -124.92M354.33 527.52l112.55 -124.92M357.33 527.52l112.55 -124.92M360.33 527.52l112.55 -124.92M363.33 527.52l112.55 -124.92M366.33 527.52l112.55 -124.92M369.33 527.52l112.55 -124.92M372.33 527.52l112.55 -124.92M375.33 527.52l112.55 -124.92M378.33 527.52l112.55 -124.92M381.33 527.52l112.55 -124.92M384.33 527.52l112.55 -124.92M387.33 527.52l112.55 -124.92M390.33 527.52l112.55 -124.92M393.33 527.52l112.55 -124.92M396.33 527.52l112.55 -124.92M399.33 527.52l112.55 -124.92M402.33 527.52l112.55 -124.92M405.33 527.52l112.55 -124.92M408.33 527.52l112.55 -124.92M411.33 527.52l112.55 -124.92M414.33 527.52l112.55 -124.92M417.33 527.52l112.55 -124.92M420.33 527.52l112.55 -124.92M423.33 527.52l112.55 -124.92M426.33 527.52l112.55 -124.92M429.33 527.52l112.55 -124.92M432.33 527.52l112.55 -124.92M435.33 527.52l112.55 -124.92M438.33 527.52l112.55 -124.92M441.33 527.52l112.55 -124.92M444.33 527.52l112.55 -124.92M447.33 527.52l112.55 -124.92M450.33 527.52l112.55 -124.92M453.33 527.52l112.55 -124.92M456.33 527.52l112.55 -124.92M459.33 527.52l112.55 -124.92M462.33 527.52l112.55 -124.92" fill="none" stroke="#ff0000" stroke-width="0.8"/>
<path fill="#ff0000" d="M423.68 402.60H461.78V534.10H423.68ZM425.48 403.50V526.62H459.98V403.50ZM425.48 528.42V533.20H459.98V528.42Z" fill-rule="evenodd"/>
<clipPath id="c18"><rect x="471.69" y="402.60" width="36.30" height="125.58"/></clipPath>
<rect x="471.69" y="402.60" width="36.30" height="125.58" fill="#fff"/>
<path clip-path="url(#c18)" d="M355.85 528.18l113.14 -125.58M358.85 528.18l113.14 -125.58M361.85 528.18l113.14 -125.58M364.85 528.18l113.14 -125.58M367.85 528.18l113.14 -125.58M370.85 528.18l113.14 -125.58M373.85 528.18l113.14 -125.58M376.85 528.18l113.14 -125.58M379.85 528.18l113.14 -125.58M382.85 528.18l113.14 -125.58M385.85 528.18l113.14 -125.58M388.85 528.18l113.14 -125.58M391.85 528.18l113.14 -125.58M394.85 528.18l113.14 -125.58M397.85 528.18l113.14 -125.58M400.85 528.18l113.14 -125.58M403.85 528.18l113.14 -125.58M406.85 528.18l113.14 -125.58M409.85 528.18l113.14 -125.58M412.85 528.18l113.14 -125.58M415.85 528.18l113.14 -125.58M418.85 528.18l113.14 -125.58M421.85 528.18l113.14 -125.58M424.85 528.18l113.14 -125.58M427.85 528.18l113.14 -125.58M430.85 528.18l113.14 -125.58M433.85 528.18l113.14 -125.58M436.85 528.18l113.14 -125.58M439.85 528.18l113.14 -125.58M442.85 528.18l113.14 -125.58M445.85 528.18l113.14 -125.58M448.85 528.18l113.14 -125.58M451.85 528.18l113.14 -125.58M454.85 528.18l113.14 -125.58M457.85 528.18l113.14 -125.58M460.85 528.18l113.14 -125.58M463.85 528.18l113.14 -125.58M466.85 528.18l113.14 -125.58M469.85 528.18l113.14 -125.58M472.85 528.18l113.14 -125.58M475.85 528.18l113.14 -125.58M478.85 528.18l113.14 -125.58M481.85 528.18l113.14 -125.58M484.85 528.18l113.14 -125.58M487.85 528.18l113.14 -125.58M490.85 528.18l113.14 -125.58M493.85 528.18l113.14 -125.58M496.85 528.18l113.14 -125.58M499.85 528.18l113.14 -125.58M502.85 528.18l113.14 -125.58M505.85 528.18l113.14 -125.58M508.85 528.18l113.14 -125.58" fill="none" stroke="#ff0000" stroke-width="1.2"/>
<rect x="471.69" y="528.18" width="36.3" height="5.92" fill="#ff0000"/>
<line x1="230.7" y1="402.10" x2="230.7" y2="534.1" stroke="#262626" stroke-width="1.1"/>
<line x1="230.7" y1="534.1" x2="230.7" y2="571.2" stroke="#262626" stroke-width="1.1"/>
<line x1="230.14999999999998" y1="534.1" x2="513.9499999999999" y2="534.1" stroke="#262626" stroke-width="1.2"/>
<line x1="324.93" y1="534.1" x2="324.93" y2="571.2" stroke="#262626" stroke-width="1.1"/>
<line x1="419.17" y1="534.1" x2="419.17" y2="571.2" stroke="#262626" stroke-width="1.1"/>
<line x1="513.40" y1="534.1" x2="513.40" y2="571.2" stroke="#262626" stroke-width="1.1"/>
<text transform="translate(253.96 550.2) scale(0.94 1)" text-anchor="middle" font-size="11" fill="#595959">Control</text>
<text transform="translate(301.07 550.2) scale(0.94 1)" text-anchor="middle" font-size="11" letter-spacing="0.45" fill="#595959">BPA</text>
<text transform="translate(348.19 550.2) scale(0.94 1)" text-anchor="middle" font-size="11" fill="#595959">Control</text>
<text transform="translate(395.31 550.2) scale(0.94 1)" text-anchor="middle" font-size="11" letter-spacing="0.45" fill="#595959">BPA</text>
<text transform="translate(442.43 550.2) scale(0.94 1)" text-anchor="middle" font-size="11" fill="#595959">Control</text>
<text transform="translate(489.54 550.2) scale(0.94 1)" text-anchor="middle" font-size="11" letter-spacing="0.45" fill="#595959">BPA</text>
<text transform="translate(277.82 568.6) scale(0.94 1)" text-anchor="middle" font-size="11" fill="#595959">Both sexes</text>
<text transform="translate(374.35 568.6) scale(0.94 1)" text-anchor="middle" font-size="11" fill="#595959">Males</text>
<text transform="translate(467.78 568.6) scale(0.94 1)" text-anchor="middle" font-size="11" fill="#595959">Females</text>
<text transform="translate(199.7,470.60) rotate(-90) scale(0.952 1)" text-anchor="middle" font-size="11" fill="#595959">Relative Expression Level (%)</text>
<text x="363.8" y="384.0" text-anchor="middle" font-size="16.3" font-weight="bold" font-style="italic" fill="#595959">Chd2</text>
<path d="M492.2 376.6 l3.3 -3.6 M493.8 378 l3.3 -3.6" fill="none" stroke="#111" stroke-width="1.5"/>
<text transform="translate(499.3 378.8) scale(0.93 1)" font-size="11.1" fill="#595959">SC</text>
<rect x="492" y="387.4" width="5.1" height="5.1" fill="#111"/>
<text transform="translate(499.3 393.3) scale(0.93 1)" font-size="11.1" fill="#595959">IC</text>
</svg></body></html>
